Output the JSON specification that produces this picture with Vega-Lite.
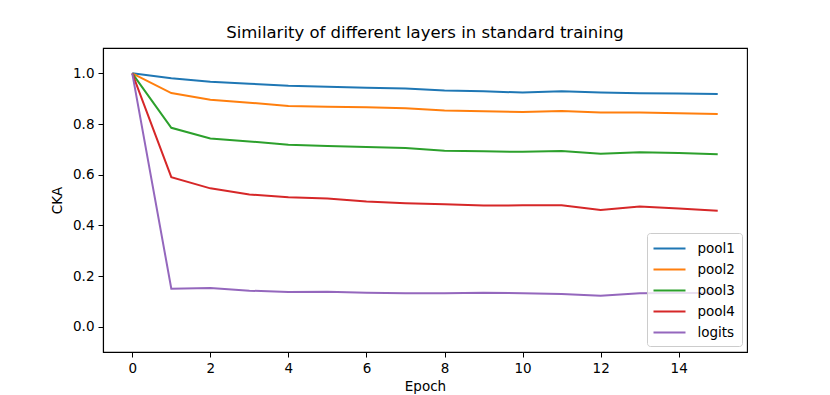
{
  "$schema": "https://vega.github.io/schema/vega-lite/v6.json",
  "width": 644,
  "height": 304,
  "autosize": "none",
  "padding": {"left": 103, "top": 48, "right": 83, "bottom": 43},
  "background": "white",
  "title": {
    "text": "Similarity of different layers in standard training",
    "font": "DejaVu Sans",
    "fontSize": 16.5,
    "fontWeight": "normal",
    "color": "black",
    "anchor": "middle",
    "offset": 7
  },
  "config": {
    "view": {"stroke": "black", "strokeWidth": 1.1},
    "axis": {
      "labelFont": "DejaVu Sans",
      "labelFontSize": 13.5,
      "labelColor": "black",
      "titleFont": "DejaVu Sans",
      "titleFontSize": 13.5,
      "titleFontWeight": "normal",
      "titleColor": "black",
      "tickColor": "black",
      "tickSize": 5,
      "tickWidth": 1,
      "domainColor": "black",
      "domainWidth": 1.1,
      "grid": false
    },
    "legend": {
      "labelFont": "DejaVu Sans",
      "labelFontSize": 13.5,
      "labelColor": "black"
    }
  },
  "data": {
    "values": [
      {"epoch": 0, "layer": "pool1", "cka": 1.0},
      {"epoch": 1, "layer": "pool1", "cka": 0.981},
      {"epoch": 2, "layer": "pool1", "cka": 0.967},
      {"epoch": 3, "layer": "pool1", "cka": 0.959},
      {"epoch": 4, "layer": "pool1", "cka": 0.951},
      {"epoch": 5, "layer": "pool1", "cka": 0.947},
      {"epoch": 6, "layer": "pool1", "cka": 0.943},
      {"epoch": 7, "layer": "pool1", "cka": 0.940},
      {"epoch": 8, "layer": "pool1", "cka": 0.932},
      {"epoch": 9, "layer": "pool1", "cka": 0.929},
      {"epoch": 10, "layer": "pool1", "cka": 0.924},
      {"epoch": 11, "layer": "pool1", "cka": 0.929},
      {"epoch": 12, "layer": "pool1", "cka": 0.924},
      {"epoch": 13, "layer": "pool1", "cka": 0.921},
      {"epoch": 14, "layer": "pool1", "cka": 0.920},
      {"epoch": 15, "layer": "pool1", "cka": 0.918},
      {"epoch": 0, "layer": "pool2", "cka": 1.0},
      {"epoch": 1, "layer": "pool2", "cka": 0.922},
      {"epoch": 2, "layer": "pool2", "cka": 0.896},
      {"epoch": 3, "layer": "pool2", "cka": 0.884},
      {"epoch": 4, "layer": "pool2", "cka": 0.871},
      {"epoch": 5, "layer": "pool2", "cka": 0.868},
      {"epoch": 6, "layer": "pool2", "cka": 0.866},
      {"epoch": 7, "layer": "pool2", "cka": 0.862},
      {"epoch": 8, "layer": "pool2", "cka": 0.853},
      {"epoch": 9, "layer": "pool2", "cka": 0.850},
      {"epoch": 10, "layer": "pool2", "cka": 0.847},
      {"epoch": 11, "layer": "pool2", "cka": 0.851},
      {"epoch": 12, "layer": "pool2", "cka": 0.845},
      {"epoch": 13, "layer": "pool2", "cka": 0.845},
      {"epoch": 14, "layer": "pool2", "cka": 0.842},
      {"epoch": 15, "layer": "pool2", "cka": 0.839},
      {"epoch": 0, "layer": "pool3", "cka": 1.0},
      {"epoch": 1, "layer": "pool3", "cka": 0.785},
      {"epoch": 2, "layer": "pool3", "cka": 0.743},
      {"epoch": 3, "layer": "pool3", "cka": 0.731},
      {"epoch": 4, "layer": "pool3", "cka": 0.718},
      {"epoch": 5, "layer": "pool3", "cka": 0.713},
      {"epoch": 6, "layer": "pool3", "cka": 0.709},
      {"epoch": 7, "layer": "pool3", "cka": 0.705},
      {"epoch": 8, "layer": "pool3", "cka": 0.694},
      {"epoch": 9, "layer": "pool3", "cka": 0.692},
      {"epoch": 10, "layer": "pool3", "cka": 0.690},
      {"epoch": 11, "layer": "pool3", "cka": 0.693},
      {"epoch": 12, "layer": "pool3", "cka": 0.683},
      {"epoch": 13, "layer": "pool3", "cka": 0.688},
      {"epoch": 14, "layer": "pool3", "cka": 0.686},
      {"epoch": 15, "layer": "pool3", "cka": 0.681},
      {"epoch": 0, "layer": "pool4", "cka": 1.0},
      {"epoch": 1, "layer": "pool4", "cka": 0.590},
      {"epoch": 2, "layer": "pool4", "cka": 0.546},
      {"epoch": 3, "layer": "pool4", "cka": 0.522},
      {"epoch": 4, "layer": "pool4", "cka": 0.511},
      {"epoch": 5, "layer": "pool4", "cka": 0.506},
      {"epoch": 6, "layer": "pool4", "cka": 0.494},
      {"epoch": 7, "layer": "pool4", "cka": 0.487},
      {"epoch": 8, "layer": "pool4", "cka": 0.483},
      {"epoch": 9, "layer": "pool4", "cka": 0.478},
      {"epoch": 10, "layer": "pool4", "cka": 0.479},
      {"epoch": 11, "layer": "pool4", "cka": 0.479},
      {"epoch": 12, "layer": "pool4", "cka": 0.461},
      {"epoch": 13, "layer": "pool4", "cka": 0.474},
      {"epoch": 14, "layer": "pool4", "cka": 0.466},
      {"epoch": 15, "layer": "pool4", "cka": 0.458},
      {"epoch": 0, "layer": "logits", "cka": 1.0},
      {"epoch": 1, "layer": "logits", "cka": 0.150},
      {"epoch": 2, "layer": "logits", "cka": 0.153},
      {"epoch": 3, "layer": "logits", "cka": 0.142},
      {"epoch": 4, "layer": "logits", "cka": 0.137},
      {"epoch": 5, "layer": "logits", "cka": 0.138},
      {"epoch": 6, "layer": "logits", "cka": 0.134},
      {"epoch": 7, "layer": "logits", "cka": 0.132},
      {"epoch": 8, "layer": "logits", "cka": 0.132},
      {"epoch": 9, "layer": "logits", "cka": 0.134},
      {"epoch": 10, "layer": "logits", "cka": 0.132},
      {"epoch": 11, "layer": "logits", "cka": 0.129},
      {"epoch": 12, "layer": "logits", "cka": 0.122},
      {"epoch": 13, "layer": "logits", "cka": 0.132},
      {"epoch": 14, "layer": "logits", "cka": 0.133},
      {"epoch": 15, "layer": "logits", "cka": 0.133}
    ]
  },
  "mark": {"type": "line", "strokeWidth": 2, "clip": true},
  "encoding": {
    "x": {
      "field": "epoch",
      "type": "quantitative",
      "scale": {"domain": [-0.75, 15.75], "nice": false, "zero": false},
      "axis": {"values": [0, 2, 4, 6, 8, 10, 12, 14], "title": "Epoch", "labelPadding": 4, "titlePadding": 5, "labelFlush": false}
    },
    "y": {
      "field": "cka",
      "type": "quantitative",
      "scale": {"domain": [-0.1, 1.1], "nice": false, "zero": false},
      "axis": {"values": [0, 0.2, 0.4, 0.6, 0.8, 1.0], "format": ".1f", "title": "CKA", "labelPadding": 4, "titlePadding": 8, "labelFlush": false}
    },
    "color": {
      "field": "layer",
      "type": "nominal",
      "sort": ["pool1", "pool2", "pool3", "pool4", "logits"],
      "scale": {
        "domain": ["pool1", "pool2", "pool3", "pool4", "logits"],
        "range": ["#1f77b4", "#ff7f0e", "#2ca02c", "#d62728", "#9467bd"]
      },
      "legend": {
        "title": null,
        "orient": "none",
        "legendX": 544,
        "legendY": 185,
        "symbolType": "M-1.125,0H2.875",
        "symbolSize": 256,
        "symbolStrokeWidth": 2,
        "fillColor": "rgba(255,255,255,0.8)",
        "strokeColor": "#cccccc",
        "cornerRadius": 3,
        "padding": 6.5,
        "rowPadding": 5,
        "labelOffset": 26
      }
    }
  }
}
